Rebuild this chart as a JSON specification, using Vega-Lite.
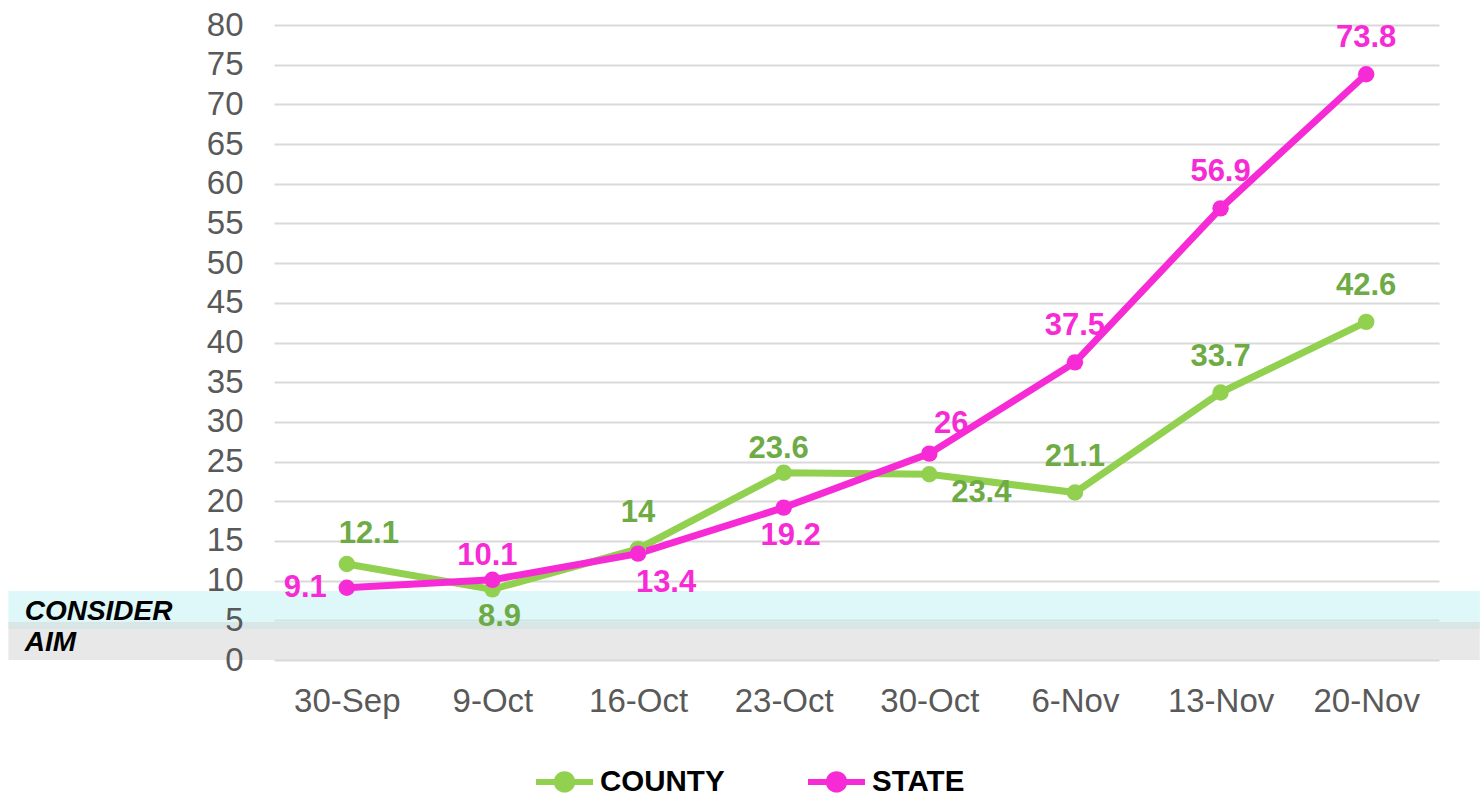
{
  "$schema": "https://vega.github.io/schema/vega-lite/v6.json",
  "width": 1165,
  "height": 635,
  "autosize": {"type": "none"},
  "padding": {"left": 274, "top": 25, "right": 41, "bottom": 136},
  "background": "white",
  "config": {
    "font": "Liberation Sans",
    "view": {"stroke": null},
    "axis": {
      "labelFont": "Liberation Sans",
      "labelFontSize": 33,
      "labelColor": "#595959",
      "labelOverlap": false,
      "ticks": false,
      "tickSize": 0,
      "domain": false,
      "gridColor": "#D9D9D9",
      "gridWidth": 2,
      "title": null
    }
  },
  "datasets": {
    "series": [
      {"date": "30-Sep", "series": "COUNTY", "value": 12.1},
      {"date": "9-Oct", "series": "COUNTY", "value": 8.9},
      {"date": "16-Oct", "series": "COUNTY", "value": 14},
      {"date": "23-Oct", "series": "COUNTY", "value": 23.6},
      {"date": "30-Oct", "series": "COUNTY", "value": 23.4},
      {"date": "6-Nov", "series": "COUNTY", "value": 21.1},
      {"date": "13-Nov", "series": "COUNTY", "value": 33.7},
      {"date": "20-Nov", "series": "COUNTY", "value": 42.6},
      {"date": "30-Sep", "series": "STATE", "value": 9.1},
      {"date": "9-Oct", "series": "STATE", "value": 10.1},
      {"date": "16-Oct", "series": "STATE", "value": 13.4},
      {"date": "23-Oct", "series": "STATE", "value": 19.2},
      {"date": "30-Oct", "series": "STATE", "value": 26},
      {"date": "6-Nov", "series": "STATE", "value": 37.5},
      {"date": "13-Nov", "series": "STATE", "value": 56.9},
      {"date": "20-Nov", "series": "STATE", "value": 73.8}
    ],
    "bands": [
      {"zone": "CONSIDER", "lo": 3.9, "hi": 8.7},
      {"zone": "AIM", "lo": 0, "hi": 4.8}
    ]
  },
  "resolve": {"scale": {"x": "independent"}, "axis": {"y": "independent"}},
  "layer": [
    {
      "data": {"name": "bands"},
      "layer": [
        {
          "transform": [{"filter": "datum.zone === 'CONSIDER'"}],
          "mark": {"type": "rect", "color": "#BDEFF1", "opacity": 0.5},
          "encoding": {
            "x": {"datum": -0.228, "type": "quantitative", "scale": {"domain": [0, 1]}, "axis": null},
            "x2": {"datum": 1.035},
            "y": {
              "field": "lo",
              "type": "quantitative",
              "scale": {"domain": [0, 80], "nice": false},
              "axis": {"orient": "left", "tickCount": 40, "values": [0, 5, 10, 15, 20, 25, 30, 35, 40, 45, 50, 55, 60, 65, 70, 75, 80], "grid": true, "labels": false, "zindex": 0}
            },
            "y2": {"field": "hi"}
          }
        },
        {
          "transform": [{"filter": "datum.zone === 'AIM'"}],
          "mark": {"type": "rect", "color": "#D7D7D7", "opacity": 0.58},
          "encoding": {
            "x": {"datum": -0.228, "type": "quantitative"},
            "x2": {"datum": 1.035},
            "y": {"field": "lo", "type": "quantitative"},
            "y2": {"field": "hi"}
          }
        },
        {
          "mark": {"type": "text", "align": "left", "baseline": "alphabetic", "dy": -9.5, "fontSize": 28, "fontWeight": "bold", "fontStyle": "italic", "color": "#000000"},
          "encoding": {
            "x": {"datum": -0.214, "type": "quantitative"},
            "y": {"field": "lo", "type": "quantitative"},
            "text": {"field": "zone"}
          }
        }
      ]
    },
    {
      "data": {"name": "series"},
      "encoding": {
        "x": {
          "field": "date",
          "type": "ordinal",
          "sort": null,
          "scale": {"type": "point", "padding": 0.5, "domain": ["30-Sep", "9-Oct", "16-Oct", "23-Oct", "30-Oct", "6-Nov", "13-Nov", "20-Nov"]},
          "axis": {"orient": "bottom", "labelAngle": 0, "grid": false, "labelPadding": 25}
        },
        "y": {
          "field": "value",
          "type": "quantitative",
          "scale": {"domain": [0, 80], "nice": false},
          "axis": {"orient": "left", "tickCount": 40, "values": [0, 5, 10, 15, 20, 25, 30, 35, 40, 45, 50, 55, 60, 65, 70, 75, 80], "grid": false, "labelPadding": 31, "zindex": 1}
        }
      },
      "layer": [
        {
          "mark": {"type": "line", "strokeWidth": 7},
          "encoding": {
            "color": {
              "field": "series",
              "type": "nominal",
              "scale": {"domain": ["COUNTY", "STATE"], "range": ["#92D050", "#F72BD6"]},
              "legend": {
                "orient": "none",
                "legendX": 259,
                "legendY": 725,
                "direction": "horizontal",
                "title": null,
                "labelFont": "Liberation Sans",
                "labelFontSize": 29.5,
                "labelFontWeight": "bold",
                "labelColor": "#000000",
                "symbolType": "M-1,0H1M0.27,0A0.27,0.27,0,1,1,-0.27,0A0.27,0.27,0,1,1,0.27,0Z",
                "symbolSize": 3249,
                "symbolStrokeWidth": 6,
                "labelOffset": 4,
                "columnPadding": 71
              }
            }
          }
        },
        {
          "mark": {"type": "point", "filled": true, "size": 270, "opacity": 1},
          "encoding": {"color": {"field": "series", "type": "nominal"}}
        },
        {
          "transform": [{"filter": "(datum.series === 'COUNTY' && indexof(['16-Oct','6-Nov','13-Nov','20-Nov'], datum.date) >= 0) || (datum.series === 'STATE' && indexof(['6-Nov','13-Nov','20-Nov'], datum.date) >= 0)"}],
          "mark": {"type": "text", "fontSize": 31, "fontWeight": "bold", "align": "center", "baseline": "middle", "dy": -36},
          "encoding": {
            "text": {"field": "value", "type": "quantitative"},
            "color": {"condition": {"test": "datum.series === 'COUNTY'", "value": "#6EAB45"}, "value": "#F72BD6"}
          }
        },
        {
          "transform": [{"filter": "(datum.series === 'COUNTY' && datum.date === '23-Oct') || (datum.series === 'STATE' && datum.date === '9-Oct')"}],
          "mark": {"type": "text", "fontSize": 31, "fontWeight": "bold", "align": "center", "baseline": "middle", "dx": -5, "dy": -24},
          "encoding": {
            "text": {"field": "value", "type": "quantitative"},
            "color": {"condition": {"test": "datum.series === 'COUNTY'", "value": "#6EAB45"}, "value": "#F72BD6"}
          }
        },
        {
          "transform": [{"filter": "(datum.series === 'COUNTY' && datum.date === '30-Sep') || (datum.series === 'STATE' && datum.date === '30-Oct')"}],
          "mark": {"type": "text", "fontSize": 31, "fontWeight": "bold", "align": "center", "baseline": "middle", "dx": 22, "dy": -30},
          "encoding": {
            "text": {"field": "value", "type": "quantitative"},
            "color": {"condition": {"test": "datum.series === 'COUNTY'", "value": "#6EAB45"}, "value": "#F72BD6"}
          }
        },
        {
          "transform": [{"filter": "(datum.series === 'COUNTY' && datum.date === '9-Oct') || (datum.series === 'STATE' && datum.date === '23-Oct')"}],
          "mark": {"type": "text", "fontSize": 31, "fontWeight": "bold", "align": "center", "baseline": "middle", "dx": 7, "dy": 28},
          "encoding": {
            "text": {"field": "value", "type": "quantitative"},
            "color": {"condition": {"test": "datum.series === 'COUNTY'", "value": "#6EAB45"}, "value": "#F72BD6"}
          }
        },
        {
          "transform": [{"filter": "datum.series === 'STATE' && datum.date === '16-Oct'"}],
          "mark": {"type": "text", "fontSize": 31, "fontWeight": "bold", "align": "center", "baseline": "middle", "dx": 28, "dy": 29, "color": "#F72BD6"},
          "encoding": {"text": {"field": "value", "type": "quantitative"}}
        },
        {
          "transform": [{"filter": "datum.series === 'COUNTY' && datum.date === '30-Oct'"}],
          "mark": {"type": "text", "fontSize": 31, "fontWeight": "bold", "align": "center", "baseline": "middle", "dx": 52, "dy": 19, "color": "#6EAB45"},
          "encoding": {"text": {"field": "value", "type": "quantitative"}}
        },
        {
          "transform": [{"filter": "datum.series === 'STATE' && datum.date === '30-Sep'"}],
          "mark": {"type": "text", "fontSize": 31, "fontWeight": "bold", "align": "right", "baseline": "middle", "dx": -20, "dy": 0, "color": "#F72BD6"},
          "encoding": {"text": {"field": "value", "type": "quantitative"}}
        }
      ]
    }
  ]
}
